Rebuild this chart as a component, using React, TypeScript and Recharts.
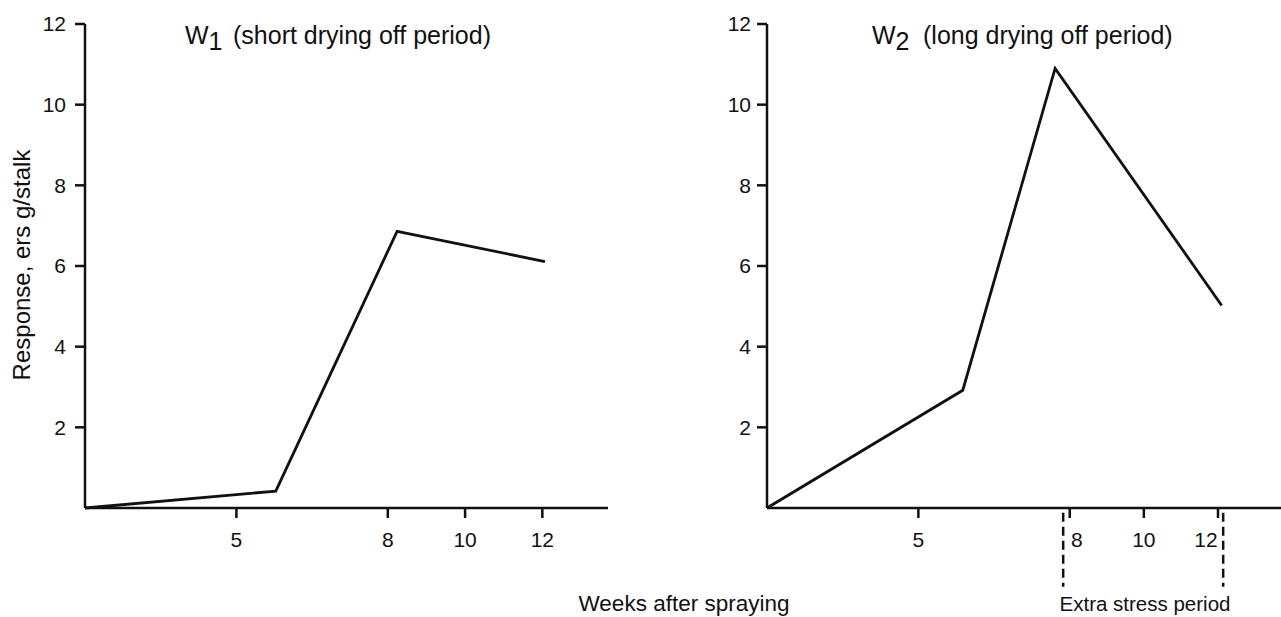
import React from "react";
import { Line, LineChart, ReferenceLine, XAxis, YAxis } from "recharts";

// W1, short drying off period
const w1Weeks = [2, 5.78, 8.24, 12.07];
const w1Response = [0, 0.42, 6.86, 6.11];

// W2, long drying off period
const w2Weeks = [2, 5.88, 7.71, 12.1];
const w2Response = [0, 2.92, 10.9, 5.02];

const weekTicks = [5, 8, 10, 12];
const responseTicks = [2, 4, 6, 8, 10, 12];
const stressPeriod = [7.87, 12.14];

// the printed week axis is not uniform: weeks 2-8 get more room than 8-13.7
const axisBreaks = [2, 8, 13.7];
const w1BreakShare = [0, 0.579, 1];
const w2BreakShare = [0, 0.589, 1];

const FONT = "'Liberation Sans', Arial, sans-serif";
const INK = "#111";

function piecewiseScale(breaks: number[], share: number[]) {
  const make = (domain: number[], range: number[]) => {
    const toShare = (v: number) => {
      let i = 0;
      while (i < breaks.length - 2 && v > breaks[i + 1]) i++;
      const t = (v - breaks[i]) / (breaks[i + 1] - breaks[i]);
      return share[i] + t * (share[i + 1] - share[i]);
    };
    const s: any = (v: number) => range[0] + toShare(v) * (range[1] - range[0]);
    s.domain = (d?: number[]) => {
      if (d === undefined) return domain.slice();
      domain = d.slice();
      return s;
    };
    s.range = (r?: number[]) => {
      if (r === undefined) return range.slice();
      range = r.slice();
      return s;
    };
    s.copy = () => make(domain.slice(), range.slice());
    s.ticks = () => breaks.slice();
    s.tickFormat = () => (v: number) => String(v);
    s.nice = () => s;
    s.invert = (px: number) => {
      const f = (px - range[0]) / (range[1] - range[0]);
      let i = 0;
      while (i < share.length - 2 && f > share[i + 1]) i++;
      const t = (f - share[i]) / (share[i + 1] - share[i]);
      return breaks[i] + t * (breaks[i + 1] - breaks[i]);
    };
    return s;
  };
  return make([breaks[0], breaks[breaks.length - 1]], [0, 1]);
}

const toRows = (weeks: number[], values: number[]) =>
  weeks.map((week, i) => ({ week, response: values[i] }));

const w1Data = toRows(w1Weeks, w1Response);
const w2Data = toRows(w2Weeks, w2Response);

const tickStyle = { fill: INK, fontSize: 21, fontFamily: FONT };
const axisStroke = { stroke: INK, strokeWidth: 2.5 };
const tickStroke = { stroke: INK, strokeWidth: 2.5 };

// in W2 the 8 and 12 labels are nudged clear of the dashed stress markers
const makeWeekTick = (nudge: Record<number, number>) => (props: any) => {
  const { x, y, payload } = props;
  return (
    <text
      x={x + (nudge[payload.value] || 0)}
      y={y}
      dy="0.71em"
      textAnchor="middle"
      fill={INK}
      fontSize={21}
      fontFamily={FONT}
    >
      {payload.value}
    </text>
  );
};

type PanelProps = {
  data: { week: number; response: number }[];
  share: number[];
  left: number;
  width: number;
  marginLeft: number;
  marginRight: number;
  yTickMargin: number;
  nudge?: Record<number, number>;
  showStress?: boolean;
};

function Panel({
  data,
  share,
  left,
  width,
  marginLeft,
  marginRight,
  yTickMargin,
  nudge = {},
  showStress,
}: PanelProps) {
  return (
    <div style={{ position: "absolute", left, top: 0 }}>
      <LineChart
        width={width}
        height={617}
        data={data}
        margin={{ top: 24, right: marginRight, bottom: 79, left: marginLeft }}
      >
        <XAxis
          dataKey="week"
          type="number"
          domain={[axisBreaks[0], axisBreaks[axisBreaks.length - 1]]}
          scale={piecewiseScale(axisBreaks, share)}
          allowDataOverflow
          ticks={weekTicks}
          interval={0}
          height={30}
          tickSize={10}
          tickMargin={14}
          tick={makeWeekTick(nudge)}
          axisLine={axisStroke}
          tickLine={tickStroke}
        />
        <YAxis
          type="number"
          domain={[0, 12]}
          ticks={responseTicks}
          interval={0}
          width={40}
          tickSize={10}
          tickMargin={yTickMargin}
          tick={tickStyle}
          axisLine={axisStroke}
          tickLine={tickStroke}
        />
        {showStress &&
          stressPeriod.map((wk) => (
            <ReferenceLine
              key={wk}
              segment={[
                { x: wk, y: -0.12 },
                { x: wk, y: -1.95 },
              ]}
              ifOverflow="visible"
              stroke={INK}
              strokeWidth={2.5}
              strokeDasharray="9 5"
            />
          ))}
        <Line
          type="linear"
          dataKey="response"
          stroke={INK}
          strokeWidth={2.8}
          strokeLinejoin="miter"
          dot={false}
          isAnimationActive={false}
        />
      </LineChart>
    </div>
  );
}

export default function App() {
  return (
    <div
      style={{
        position: "absolute",
        left: 0,
        top: 0,
        width: 1281,
        height: 617,
        background: "#fff",
        overflow: "hidden",
        fontFamily: FONT,
      }}
    >
      <Panel
        data={w1Data}
        share={w1BreakShare}
        left={0}
        width={640}
        marginLeft={45}
        marginRight={32}
        yTickMargin={9}
      />
      <Panel
        data={w2Data}
        share={w2BreakShare}
        left={700}
        width={581}
        marginLeft={27}
        marginRight={0}
        yTickMargin={6}
        nudge={{ 8: 7, 12: -12 }}
        showStress
      />
      <svg
        width={1281}
        height={617}
        style={{ position: "absolute", left: 0, top: 0, pointerEvents: "none" }}
        fontFamily={FONT}
        fill={INK}
      >
        <text x={185} y={44} fontSize={25}>
          W<tspan dy={6}>1</tspan>
        </text>
        <text x={233} y={44} fontSize={25}>
          (short drying off period)
        </text>
        <text x={872} y={44} fontSize={25}>
          W<tspan dy={6}>2</tspan>
        </text>
        <text x={923} y={44} fontSize={25}>
          (long drying off period)
        </text>
        <text transform="translate(30,265) rotate(-90)" textAnchor="middle" fontSize={24}>
          Response, ers g/stalk
        </text>
        <text x={684} y={611} textAnchor="middle" fontSize={22.5}>
          Weeks after spraying
        </text>
        <text x={1145} y={611} textAnchor="middle" fontSize={20.5}>
          Extra stress period
        </text>
      </svg>
    </div>
  );
}
